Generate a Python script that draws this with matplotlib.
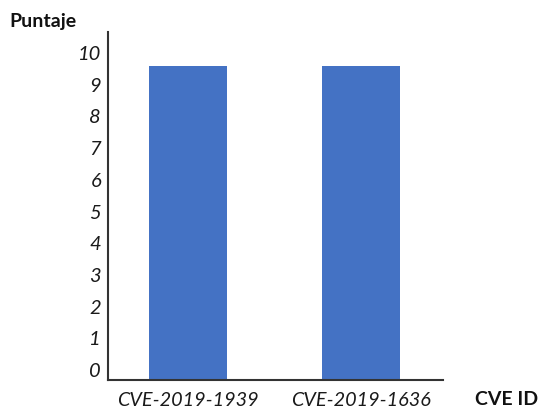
import numpy as np
import matplotlib
matplotlib.use('Agg')
import matplotlib.pyplot as plt
import matplotlib.transforms as mtransforms

# data
cves = ['CVE-2019-1939', 'CVE-2019-1636']
scores = [9.9, 9.9]
yticks = list(range(0, 11))

plt.rcParams['font.family'] = ['Lato', 'DejaVu Sans']

W, H = 539, 410
fig = plt.figure(figsize=(W / 100, H / 100), dpi=100)
ax = fig.add_axes([108 / W, (H - 381) / H, (443 - 108) / W, (381 - 33) / H])

x = np.arange(len(cves))
ax.bar(x, scores, width=0.45, color='#4472C4', zorder=2)

ax.set_xlim(-0.46, 1.47)
ax.set_ylim(0, 10.98)
ax.set_yticks(yticks)
ax.set_yticklabels([str(t) for t in yticks], fontsize=14.5, style='italic', color='#1a1a1a')
ax.set_xticks(x)
ax.set_xticklabels(cves, fontsize=14.3, style='italic', color='#1a1a1a')
ax.tick_params(axis='both', length=0)
ax.tick_params(axis='y', pad=5)
ax.tick_params(axis='x', pad=8)

# the y labels in the original sit a little above their gridline value
shift = mtransforms.ScaledTranslation(0, 11 / 100, fig.dpi_scale_trans)
for lbl in ax.get_yticklabels():
    lbl.set_transform(lbl.get_transform() + shift)

for s in ['top', 'right']:
    ax.spines[s].set_visible(False)
for s in ['left', 'bottom']:
    ax.spines[s].set_color('#333333')
    ax.spines[s].set_linewidth(1.5)

fig.text(9 / W, 1 - 22 / H, 'Puntaje', fontsize=14, fontweight='bold', ha='left', va='center', color='#111111')
fig.text(475 / W, 1 - 400 / H, 'CVE ID', fontsize=14, fontweight='bold', ha='left', va='center', color='#111111')

fig.savefig('out.png', dpi=100, facecolor='w')
